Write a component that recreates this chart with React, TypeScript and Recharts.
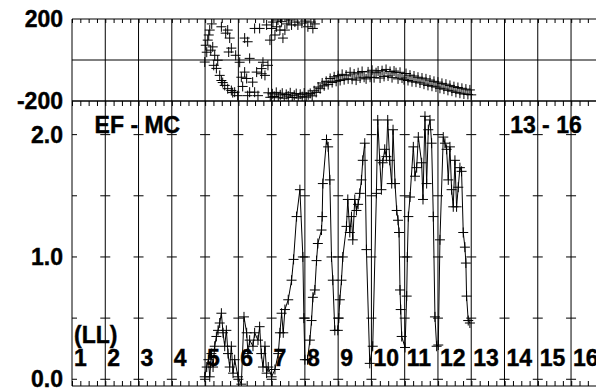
import React from 'react';
import { ComposedChart, Scatter, Line, XAxis, YAxis, ReferenceLine, ReferenceDot } from 'recharts';

// grille verticale et étiquettes LL
const gridX = [1, 2, 3, 4, 5, 6, 7, 8, 9, 10, 11, 12, 13, 14, 15, 16];
const llLabels = ['1', '2', '3', '4', '5', '6', '7', '8', '9', '10', '11', '12', '13', '14', '15', '16'];
const ratioTicks = [0, 0.5, 1, 1.5, 2];

// panneau du haut : phase, branche chaotique
const upX = [4.99, 5.02, 5.05, 5.08, 5.11, 5.14, 5.17, 5.2, 5.23, 5.26, 5.29, 5.34, 5.38, 5.44, 5.49, 5.49, 5.53, 5.59, 5.62, 5.68, 5.68, 5.71, 5.74, 5.79, 5.79, 5.83, 5.89, 5.92, 5.98, 6.04, 6.09, 6.13, 6.19, 6.19, 6.25, 6.28, 6.28, 6.34, 6.34, 6.43, 6.49, 6.49, 6.55, 6.59, 6.64, 6.7, 6.7, 6.74, 6.8, 6.85, 6.89, 6.95, 7.0, 7.04, 7.1, 7.15, 7.19, 7.25, 7.3, 7.34, 7.4, 7.46, 7.52, 7.6, 7.7, 7.79, 7.91, 8.0, 8.09, 8.18, 8.24, 8.3];
const upY = [-10, 72, 38, 97, 122, 146, 48, 176, 64, -26, 23, -41, -1, -75, 162, -100, -110, -124, 131, 146, -140, 39, 107, -149, 58, -159, -157, 23, -174, -11, -84, -129, 107, -59, -90, 89, -174, 8, -157, -108, 154, -157, -59, -174, 154, -67, -42, -11, -75, 171, -26, 97, 154, 185, 122, 162, 195, 146, 187, 107, 146, 176, 195, 171, 185, 171, 180, 190, 162, 185, 154, 176];

// panneau du haut : branche basse
const lowX = [6.9, 6.96, 7.02, 7.08, 7.14, 7.2, 7.26, 7.32, 7.38, 7.44, 7.5, 7.56, 7.62, 7.68, 7.74, 7.8, 7.86, 7.92, 7.98, 8.04, 8.1, 8.16, 8.22, 8.28, 8.34, 8.4, 8.46, 8.52, 8.58, 8.64, 8.7, 8.76, 8.82, 8.88, 8.94, 9.0, 9.06, 9.12, 9.18, 9.24, 9.3, 9.36, 9.42, 9.48, 9.54, 9.6, 9.66, 9.72, 9.78, 9.84, 9.9, 9.96, 10.02, 10.08, 10.14, 10.2, 10.26, 10.32, 10.38, 10.44, 10.5, 10.56, 10.62, 10.68, 10.74, 10.8, 10.86, 10.92, 10.98, 11.04, 11.1, 11.16, 11.22, 11.28, 11.34, 11.4, 11.46, 11.52, 11.58, 11.64, 11.7, 11.76, 11.82, 11.88, 11.94, 12.0, 12.06, 12.12, 12.18, 12.24, 12.3, 12.36, 12.42, 12.48, 12.54, 12.6, 12.66, 12.72, 12.78, 12.84, 12.9, 12.96, 13.0];
const lowY = [-160, -182, -165, -178, -158, -184, -170, -162, -186, -168, -176, -160, -183, -172, -164, -185, -167, -179, -161, -181, -170, -163, -175, -150, -158, -132, -140, -112, -126, -104, -120, -90, -110, -82, -104, -76, -100, -70, -96, -74, -92, -60, -94, -68, -98, -62, -88, -56, -84, -92, -58, -84, -50, -86, -62, -54, -88, -52, -80, -46, -78, -56, -86, -54, -62, -92, -60, -88, -96, -66, -100, -74, -106, -78, -108, -84, -112, -88, -118, -92, -124, -98, -128, -104, -132, -108, -138, -114, -142, -118, -148, -124, -152, -130, -158, -134, -162, -138, -166, -142, -168, -146, -170];

// panneau du bas : rapport EF - MC
const ratioX = [4.99, 5.05, 5.1, 5.14, 5.19, 5.24, 5.29, 5.34, 5.39, 5.44, 5.49, 5.54, 5.59, 5.64, 5.69, 5.74, 5.79, 5.84, 5.89, 5.99, 6.09, 6.17, 6.25, 6.29, 6.34, 6.44, 6.49, 6.59, 6.64, 6.69, 6.74, 6.8, 6.85, 6.9, 7.0, 7.1, 7.2, 7.25, 7.3, 7.35, 7.4, 7.5, 7.6, 7.66, 7.75, 7.85, 7.94, 7.97, 8.0, 8.08, 8.15, 8.2, 8.24, 8.3, 8.35, 8.39, 8.5, 8.52, 8.54, 8.65, 8.7, 8.75, 8.8, 8.84, 8.9, 8.99, 9.02, 9.05, 9.1, 9.14, 9.25, 9.29, 9.35, 9.4, 9.44, 9.5, 9.55, 9.6, 9.65, 9.7, 9.74, 9.8, 9.85, 9.95, 10.04, 10.15, 10.19, 10.25, 10.3, 10.34, 10.4, 10.45, 10.49, 10.55, 10.61, 10.65, 10.71, 10.76, 10.8, 10.83, 10.86, 10.88, 10.91, 11.01, 11.06, 11.08, 11.11, 11.16, 11.26, 11.31, 11.36, 11.41, 11.51, 11.55, 11.61, 11.66, 11.71, 11.76, 11.81, 11.86, 11.91, 11.96, 12.01, 12.06, 12.16, 12.21, 12.26, 12.31, 12.36, 12.41, 12.46, 12.51, 12.56, 12.61, 12.66, 12.71, 12.76, 12.81, 12.84, 12.86, 12.91, 12.96];
const ratioY = [0.02, 0.1, 0.16, 0.02, 0.21, 0.1, 0.27, 0.35, 0.4, 0.46, 0.54, 0.38, 0.27, 0.4, 0.21, 0.1, 0.27, 0.05, 0.16, 0.02, -0.04, 0.51, 0.38, 0.21, 0.32, 0.27, 0.38, 0.32, 0.43, 0.21, 0.1, 0.27, 0.05, 0.1, 0.02, 0.08, 0.21, 0.38, 0.54, 0.38, 0.57, 0.65, 0.81, 0.98, 1.33, 1.55, 1.0, 0.5, 0.16, 0.16, 0.32, 0.48, 0.67, 0.73, 0.97, 1.11, 1.22, 1.33, 1.6, 1.96, 1.9, 1.63, 1.0, 0.81, 0.4, 0.4, 0.5, 0.65, 0.81, 1.0, 1.25, 1.47, 1.2, 1.33, 1.14, 1.47, 1.38, 1.43, 1.52, 1.63, 1.79, 1.93, 1.06, 0.13, 0.27, 1.52, 2.12, 1.79, 1.55, 1.77, 1.88, 1.82, 2.12, 1.79, 1.6, 2.04, 1.6, 1.38, 1.3, 1.2, 0.73, 0.57, 0.35, 0.26, 0.68, 1.0, 1.33, 1.49, 1.9, 1.66, 1.73, 1.98, 1.77, 1.47, 2.15, 1.6, 2.04, 2.12, 1.93, 1.33, 0.51, 0.27, 0.28, 1.14, 1.98, 1.93, 1.88, 1.63, 1.9, 1.55, 1.41, 1.79, 1.41, 1.57, 1.73, 1.7, 1.2, 1.08, 0.95, 0.68, 0.48, 0.46];

const phaseData = [
  ...upX.map((x, i) => ({ x, y: upY[i] })),
  ...lowX.map((x, i) => ({ x, y: lowY[i] })),
];
const ratioData = ratioX.map((x, i) => ({ x, y: ratioY[i] }));

const FONT = 'Liberation Sans, Arial, Helvetica, sans-serif';
const labelStyle = {
  fontFamily: FONT,
  fontSize: 23,
  fontWeight: 700,
  fill: '#000',
  stroke: '#000',
  strokeWidth: 0.4,
};
const CHART_W = 606;
const PLOT_MARGIN = { left: 0, right: 1.7 };

// croix "+" pour chaque point
const Cross = (props: any) => {
  const { cx, cy } = props;
  if (cx == null || cy == null) return null;
  return (
    <path
      key={`c-${props.index}`}
      d={`M${cx - 5},${cy}h10M${cx},${cy - 5}v10`}
      stroke="#000"
      strokeWidth={1}
      fill="none"
    />
  );
};

const textAt = (txt: string, dx: number) => (p: any) => (
  <text x={p.cx + dx} y={p.cy} style={labelStyle}>
    {txt}
  </text>
);

const PhasePanel = () => (
  <ComposedChart
    width={CHART_W}
    height={120}
    margin={{ top: 19, bottom: 19, ...PLOT_MARGIN }}
  >
    <XAxis type="number" dataKey="x" domain={[1, 17]} hide allowDataOverflow />
    <YAxis
      type="number"
      dataKey="y"
      domain={[-200, 200]}
      ticks={[-200, 200]}
      interval={0}
      width={72}
      axisLine={false}
      tickLine={false}
      tickMargin={3}
      tick={labelStyle}
      allowDataOverflow
    />
    {gridX.map((v) => (
      <ReferenceLine key={`g${v}`} x={v} stroke="#000" />
    ))}
    <ReferenceLine y={0} stroke="#000" />
    <ReferenceLine y={200} stroke="#000" />
    <ReferenceLine y={-200} stroke="#000" />
    {/* petites graduations du bord haut */}
    <ReferenceLine y={190.2} stroke="#000" strokeWidth={4} strokeDasharray="1 7.32" />
    <Scatter data={phaseData} dataKey="y" shape={<Cross />} isAnimationActive={false} />
  </ComposedChart>
);

const RatioPanel = () => (
  <ComposedChart
    width={CHART_W}
    height={390}
    data={ratioData}
    margin={{ top: 101, bottom: 4, ...PLOT_MARGIN }}
  >
    <XAxis type="number" dataKey="x" domain={[1, 17]} hide allowDataOverflow />
    <YAxis
      type="number"
      domain={[-0.055, 2.275]}
      ticks={[0, 1, 2]}
      interval={0}
      tickFormatter={(v: number) => v.toFixed(1)}
      width={72}
      axisLine={false}
      tickLine={false}
      tickMargin={3}
      tick={labelStyle}
      allowDataOverflow
    />
    {gridX.map((v) => (
      <ReferenceLine key={`g${v}`} x={v} stroke="#000" />
    ))}
    <ReferenceLine y={2.275} stroke="#000" />
    <ReferenceLine y={-0.055} stroke="#000" />
    {/* petites graduations haut / bas */}
    <ReferenceLine y={2.2546} stroke="#000" strokeWidth={5} strokeDasharray="1 7.32" />
    <ReferenceLine y={-0.0346} stroke="#000" strokeWidth={5} strokeDasharray="1 7.32" />
    {/* petites croix de graduation sur la grille */}
    {ratioTicks.map((v) => (
      <ReferenceLine key={`h${v}`} y={v} stroke="#000" strokeDasharray="5 23.27 5 0" />
    ))}
    {llLabels.map((t, i) => (
      <ReferenceDot key={`ll${t}`} x={gridX[i]} y={0.11} r={0} shape={textAt(t, 2)} />
    ))}
    <ReferenceDot x={1} y={0.3} r={0} shape={textAt('(LL)', 2)} />
    <ReferenceDot x={1.68} y={2.012} r={0} shape={textAt('EF - MC', 0)} />
    <ReferenceDot x={14.17} y={2.012} r={0} shape={textAt('13 - 16', 0)} />
    <Line
      type="linear"
      dataKey="y"
      stroke="#000"
      strokeWidth={1}
      dot={<Cross />}
      activeDot={false}
      isAnimationActive={false}
    />
  </ComposedChart>
);

export default function App() {
  return (
    <div
      style={{
        position: 'fixed',
        left: 0,
        top: 0,
        width: 596,
        height: 390,
        overflow: 'hidden',
        background: '#fff',
      }}
    >
      <div style={{ position: 'absolute', left: 0, top: 0 }}>
        <RatioPanel />
      </div>
      <div style={{ position: 'absolute', left: 0, top: 0 }}>
        <PhasePanel />
      </div>
    </div>
  );
}
